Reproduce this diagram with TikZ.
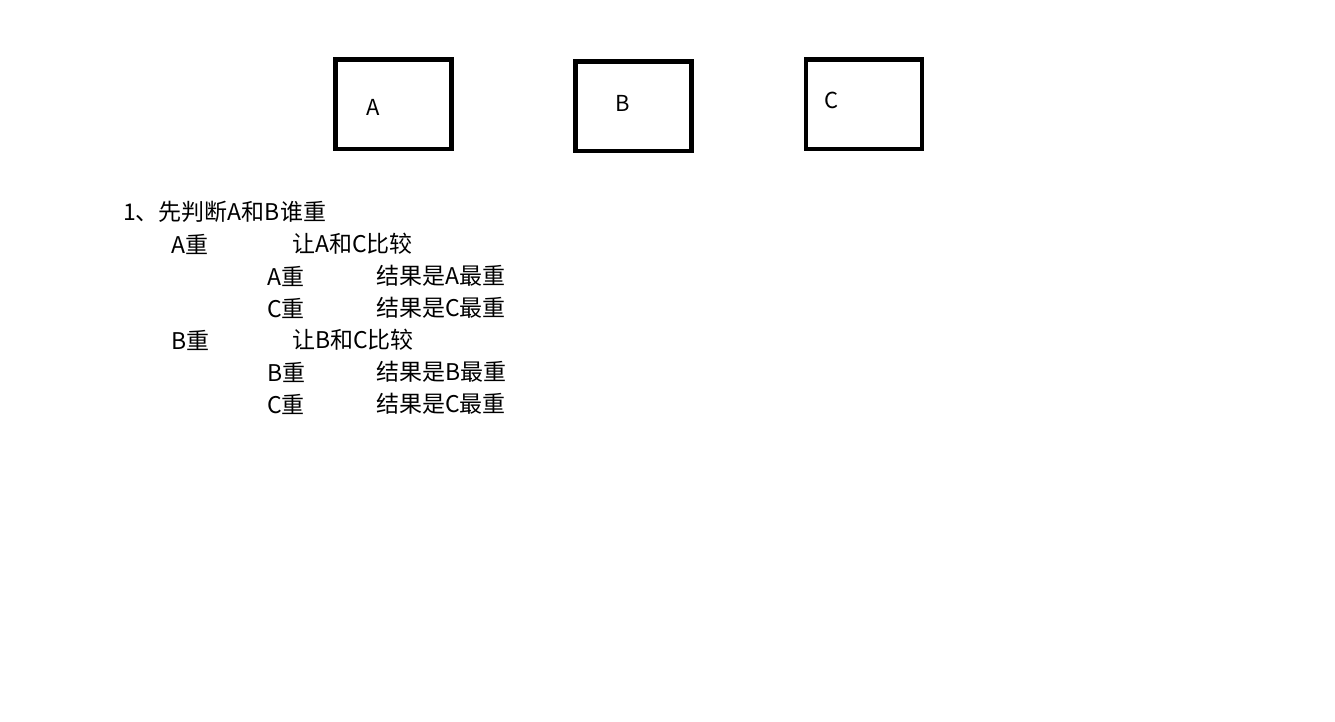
\documentclass[tikz,border=0pt]{standalone}
\usepackage{fontspec}
\setmainfont{Noto Sans CJK SC}
\usetikzlibrary{positioning}

\begin{document}
\begin{tikzpicture}[
    x=1pt, y=-1pt,
    box/.style={draw, line width=4.5pt, minimum width=116pt, minimum height=89.5pt, inner sep=0pt},
    lbl/.style={font=\fontsize{22}{26}\selectfont, inner sep=0pt},
    txt/.style={anchor=west, font=\fontsize{23}{27}\selectfont, inner sep=0pt}
]
\useasboundingbox (0,0) rectangle (1335,721);
% three boxes
\node[box] (boxA) at (393.4,104.2) {};
\node[box] (boxB) at (633.4,106.2) {};
\node[box] (boxC) at (864.2,104.2) {};
\node[lbl] (labA) at (373,107) {A};
\node[lbl] (labB) at (623,103) {B};
\node[lbl] (labC) at (832,100) {C};
% steps
\node[txt] (step) at (123,212) {1、先判断A和B谁重};
\node[txt] (heavyA) at (171,244) {A重};
\node[txt] (cmpAC) at (292,244) {让A和C比较};
\node[txt] (resA1) at (267,276) {A重};
\node[txt] (outA1) at (376,276) {结果是A最重};
\node[txt] (resC1) at (267,308) {C重};
\node[txt] (outC1) at (376,308) {结果是C最重};
\node[txt] (heavyB) at (171,340) {B重};
\node[txt] (cmpBC) at (292,340) {让B和C比较};
\node[txt] (resB2) at (267,372) {B重};
\node[txt] (outB2) at (376,372) {结果是B最重};
\node[txt] (resC2) at (267,404) {C重};
\node[txt] (outC2) at (376,404) {结果是C最重};
\end{tikzpicture}
\end{document}
